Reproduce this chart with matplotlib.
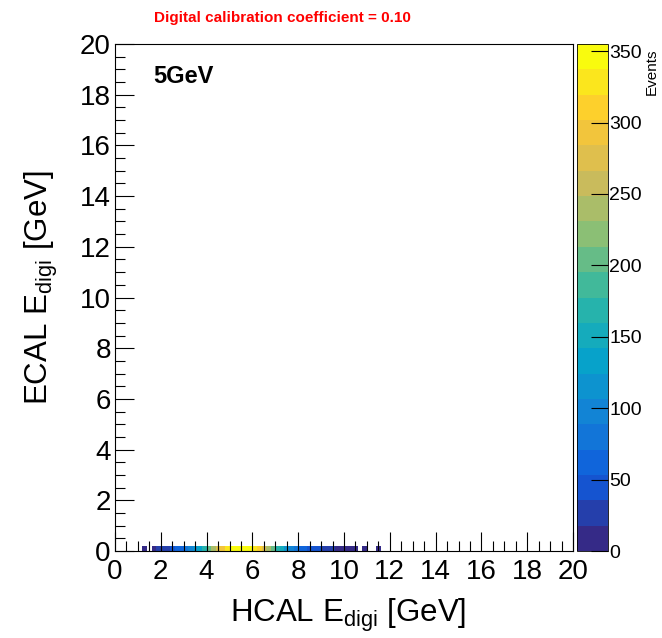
import numpy as np
import matplotlib
matplotlib.use('Agg')
import matplotlib.pyplot as plt
from matplotlib.colors import LinearSegmentedColormap, BoundaryNorm
from matplotlib.ticker import MultipleLocator
import numpy.ma as ma

plt.rcParams['font.family'] = ['Liberation Sans', 'DejaVu Sans']
plt.rcParams['mathtext.default'] = 'regular'

# HCAL bin lower edges [GeV] (all events sit in the first ECAL bin 0-0.2 GeV)
hcal_bins = [1.2, 1.4, 1.6, 1.8, 2.0, 2.2, 2.4, 2.6, 2.8, 3.0, 3.2, 3.4, 3.6,
             3.8, 4.0, 4.2, 4.4, 4.6, 4.8, 5.0, 5.2, 5.4, 5.6, 5.8, 6.0, 6.2,
             6.4, 6.6, 6.8, 7.0, 7.2, 7.4, 7.6, 7.8, 8.0, 8.2, 8.4, 8.6, 8.8,
             9.0, 9.2, 9.4, 9.6, 9.8, 10.0, 10.2, 10.4, 10.6, 10.8, 11.0, 11.2,
             11.4]
counts = [8, 0, 15, 20, 25, 35, 45, 55, 65, 80, 95, 115, 140,
          170, 200, 235, 270, 300, 325, 345, 350, 348, 345, 340, 330, 310,
          280, 240, 200, 170, 145, 120, 100, 85, 70, 60, 50, 42, 36,
          30, 25, 20, 16, 12, 9, 6, 8, 0, 4, 0, 0,
          3]
ecal_bin = 0.0
zmax = 355
cbar_ticks = [0, 50, 100, 150, 200, 250, 300, 350]

# ROOT kBird palette
bird = [(0.2082, 0.1664, 0.5293), (0.0592, 0.3599, 0.8684),
        (0.0780, 0.5041, 0.8385), (0.0232, 0.6419, 0.7914),
        (0.1802, 0.7178, 0.6425), (0.5301, 0.7492, 0.4662),
        (0.8186, 0.7328, 0.3499), (0.9956, 0.7862, 0.1968),
        (0.9764, 0.9832, 0.0539)]
cmap = LinearSegmentedColormap.from_list('bird', bird, N=20)
levels = np.linspace(0, zmax, 21)
norm = BoundaryNorm(levels, cmap.N)

edges = np.linspace(0, 20, 101)
H = np.zeros((100, 100))
for xb, c in zip(hcal_bins, counts):
    ix = int(round(xb / 0.2))
    iy = int(round(ecal_bin / 0.2))
    H[iy, ix] = c
H = ma.masked_where(H <= 0, H)

fig = plt.figure(figsize=(6.62, 6.38), dpi=100)
ax = fig.add_axes([115/662, 87/638, 458/662, 507/638])
mesh = ax.pcolormesh(edges, edges, H, cmap=cmap, norm=norm)
ax.set_xlim(0, 20)
ax.set_ylim(0, 20)

ax.xaxis.set_major_locator(MultipleLocator(2))
ax.xaxis.set_minor_locator(MultipleLocator(0.5))
ax.yaxis.set_major_locator(MultipleLocator(2))
ax.yaxis.set_minor_locator(MultipleLocator(0.5))
ax.tick_params(which='both', direction='in', top=False, right=False,
               labelsize=20, width=0.8)
ax.tick_params(which='major', length=14)
ax.tick_params(which='minor', length=7)
ax.tick_params(axis='x', pad=6)
ax.tick_params(axis='y', pad=3)
for s in ax.spines.values():
    s.set_linewidth(0.8)

ax.set_xlabel('HCAL E$_{digi}$ [GeV]', fontsize=22.5)
ax.xaxis.set_label_coords(0.51, -0.09)
ax.set_ylabel('ECAL E$_{digi}$ [GeV]', fontsize=22.5)
ax.yaxis.set_label_coords(-0.12, 0.52)

ax.text(0.083, 0.935, '5GeV', transform=ax.transAxes, fontsize=17,
        fontweight='bold', va='center', ha='left')
fig.text(282/662, 1 - 18/638, 'Digital calibration coefficient = 0.10',
         color='red', fontsize=11, fontweight='bold', ha='center', va='center')

cax = fig.add_axes([577/662, 87/638, 31/662, 507/638])
cb = fig.colorbar(mesh, cax=cax, ticks=cbar_ticks, drawedges=False)
cb.outline.set_linewidth(0.6)
cax.tick_params(direction='in', length=12, labelsize=14, width=0.8, pad=1)
cax.minorticks_off()
fig.text(652/662, 1 - 72/638, 'Events', rotation=90, fontsize=11,
         ha='center', va='center')

fig.savefig('out.png', dpi=100)
